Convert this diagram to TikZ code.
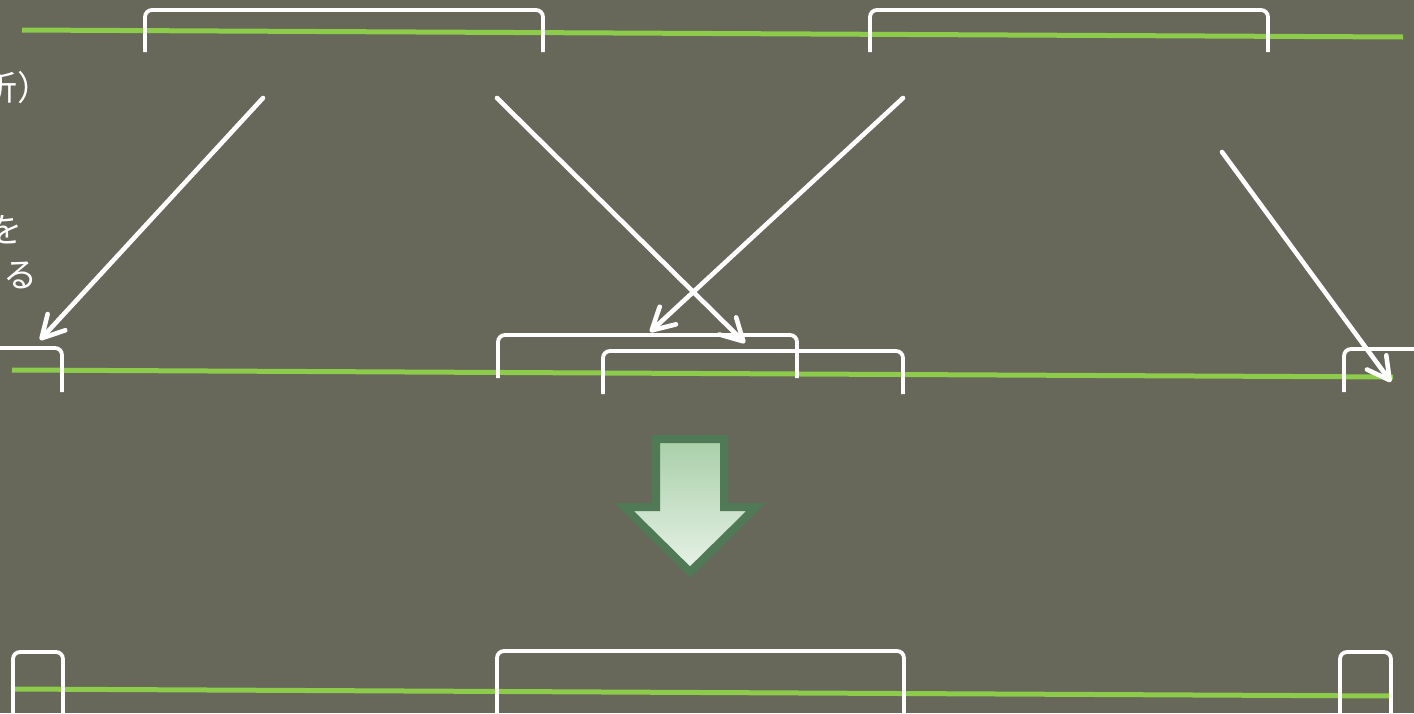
\documentclass[tikz,border=0pt]{standalone}
\usepackage{fontspec}
\newfontfamily\jpfont{Noto Sans CJK JP}
\usetikzlibrary{arrows.meta}
\definecolor{bgcol}{RGB}{103,104,90}
\definecolor{lime}{RGB}{141,203,75}
\definecolor{arrowedge}{RGB}{79,122,85}
\definecolor{arrowtop}{RGB}{168,207,168}
\definecolor{arrowbot}{RGB}{232,242,232}
\tikzset{
  track/.style={draw=lime, line width=5pt},
  bracket/.style={draw=white, line width=3.8pt, rounded corners=7pt},
  mover/.style={draw=white, line width=4.6pt, line cap=round,
    -{Straight Barb[length=22pt, width=24pt, line cap=round, line join=round]}},
  label/.style={text=white, font=\jpfont\fontsize{34}{40}\selectfont, inner sep=0pt},
  bigarrow/.style={draw=arrowedge, line width=8pt, line join=miter,
    top color=arrowtop, bottom color=arrowbot}
}
\begin{document}
\begin{tikzpicture}[x=1pt,y=-1pt]
\useasboundingbox (0,0) rectangle (1414,713);
\clip (0,0) rectangle (1414,713);
\fill[bgcol] (0,0) rectangle (1414,713);
% texts (cut by the page edge)
\node[label, anchor=east] (t1) at (52,88) {析）};
\node[label, anchor=east] (t2) at (23,230) {を};
\node[label, anchor=east] (t3) at (38,275) {る};
% tracks
\coordinate (g1a) at (22,30); \coordinate (g1b) at (1403,37);
\coordinate (g2a) at (12,370); \coordinate (g2b) at (1393,377);
\coordinate (g3a) at (12,689); \coordinate (g3b) at (1392,696);
\draw[track] (g1a) -- (g1b);
\draw[track] (g2a) -- (g2b);
\draw[track] (g3a) -- (g3b);
% top brackets
\draw[bracket] (145,52) -- (145,10) -- (543,10) -- (543,52);
\draw[bracket] (870,52) -- (870,10) -- (1268,10) -- (1268,52);
% middle brackets
\draw[bracket] (-20,348) -- (62,348) -- (62,392);
\draw[bracket] (498,378) -- (498,335) -- (797,335) -- (797,378);
\draw[bracket] (603,394) -- (603,351) -- (903,351) -- (903,394);
\draw[bracket] (1344,392) -- (1344,349) -- (1430,349);
% bottom brackets
\draw[bracket] (13,720) -- (13,652) -- (63,652) -- (63,720);
\draw[bracket] (497,720) -- (497,651) -- (904,651) -- (904,720);
\draw[bracket] (1340,720) -- (1340,652) -- (1391,652) -- (1391,720);
% moving arrows
\coordinate (a1s) at (263,98);  \coordinate (a1e) at (40,340);
\coordinate (a2s) at (497,98);  \coordinate (a2e) at (745,343);
\coordinate (a3s) at (903,98);  \coordinate (a3e) at (650,332);
\coordinate (a4s) at (1222,152); \coordinate (a4e) at (1391,382);
\draw[mover] (a1s) -- (a1e);
\draw[mover] (a2s) -- (a2e);
\draw[mover] (a3s) -- (a3e);
\draw[mover] (a4s) -- (a4e);
% big down arrow
\path[bigarrow] (656,439) -- (724,439) -- (724,507) -- (756,507) -- (690,572)
  -- (624,507) -- (656,507) -- cycle;
\end{tikzpicture}
\end{document}
